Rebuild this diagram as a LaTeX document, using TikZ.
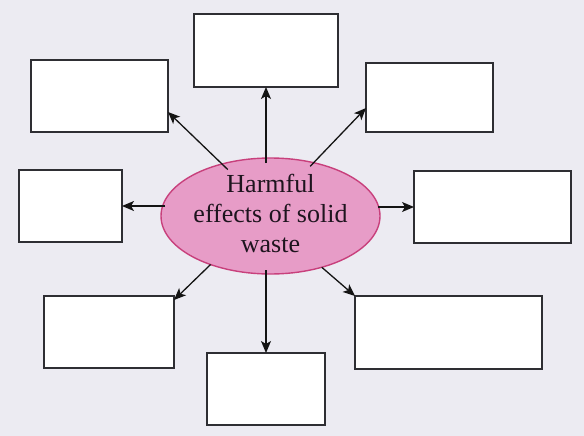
\documentclass[tikz,border=0pt]{standalone}
\usepackage{fontspec}
\setmainfont{Liberation Serif}
\usetikzlibrary{arrows.meta,shapes.geometric}
\definecolor{bg}{HTML}{ECEBF2}
\definecolor{boxc}{HTML}{2E2E33}
\definecolor{pinkfill}{HTML}{E79CC7}
\definecolor{pinkline}{HTML}{C8407C}
\definecolor{txt}{HTML}{1E141E}
\begin{document}
\begin{tikzpicture}[x=1pt,y=-1pt,
  box/.style n args={2}{draw=boxc, line width=1.5pt, fill=white, inner sep=0pt, outer sep=0pt,
    minimum width=#1, minimum height=#2},
  arr/.style={draw=black!92, line width=1.3pt, -{Stealth[length=12pt,width=10pt,inset=3pt]}}]
\useasboundingbox (0,0) rectangle (584,436);
\fill[bg] (0,0) rectangle (584,436);
% boxes
\node[box={144pt}{73pt}] (tc) at (266,50.5) {};
\node[box={137pt}{72pt}] (tl) at (99.5,96) {};
\node[box={127pt}{69pt}] (tr) at (429.5,97.5) {};
\node[box={103pt}{72pt}] (lt) at (70.5,206) {};
\node[box={157pt}{72pt}] (rt) at (492.5,207) {};
\node[box={130pt}{72pt}] (bl) at (109,332) {};
\node[box={118pt}{72pt}] (bc) at (266,389) {};
\node[box={187pt}{73pt}] (br) at (448.5,332.5) {};
% ellipse
\node[ellipse, draw=pinkline, line width=1.4pt, fill=pinkfill, inner sep=0pt, outer sep=0pt,
  minimum width=219pt, minimum height=116pt] (e) at (270.5,216) {};
\node[align=center, text=txt, font=\fontsize{26}{30}\selectfont, inner sep=0pt] (lbl) at (270.5,213)
  {Harmful\\effects of solid\\waste};
% arrows
\draw[arr, shorten <=-5pt] (tc.south |- e.north) -- (tc.south);
\draw[arr, shorten <=-8pt] (e.133.7) -- ([yshift=20pt]tl.south east);
\draw[arr, shorten <=-5pt] (e.51.9) -- ([yshift=24pt]tr.south west);
\draw[arr, shorten <=-2pt] (e.east |- rt.west) -- (rt.west);
\draw[arr, shorten <=-4pt] (e.west |- lt.east) -- (lt.east);
\draw[arr] (e.219.3) -- ([yshift=-4pt]bl.north east);
\draw[arr, shorten <=-4pt] (bc.north |- e.south) -- (bc.north);
\draw[arr] (e.315.9) -- (br.north west);
\end{tikzpicture}
\end{document}
